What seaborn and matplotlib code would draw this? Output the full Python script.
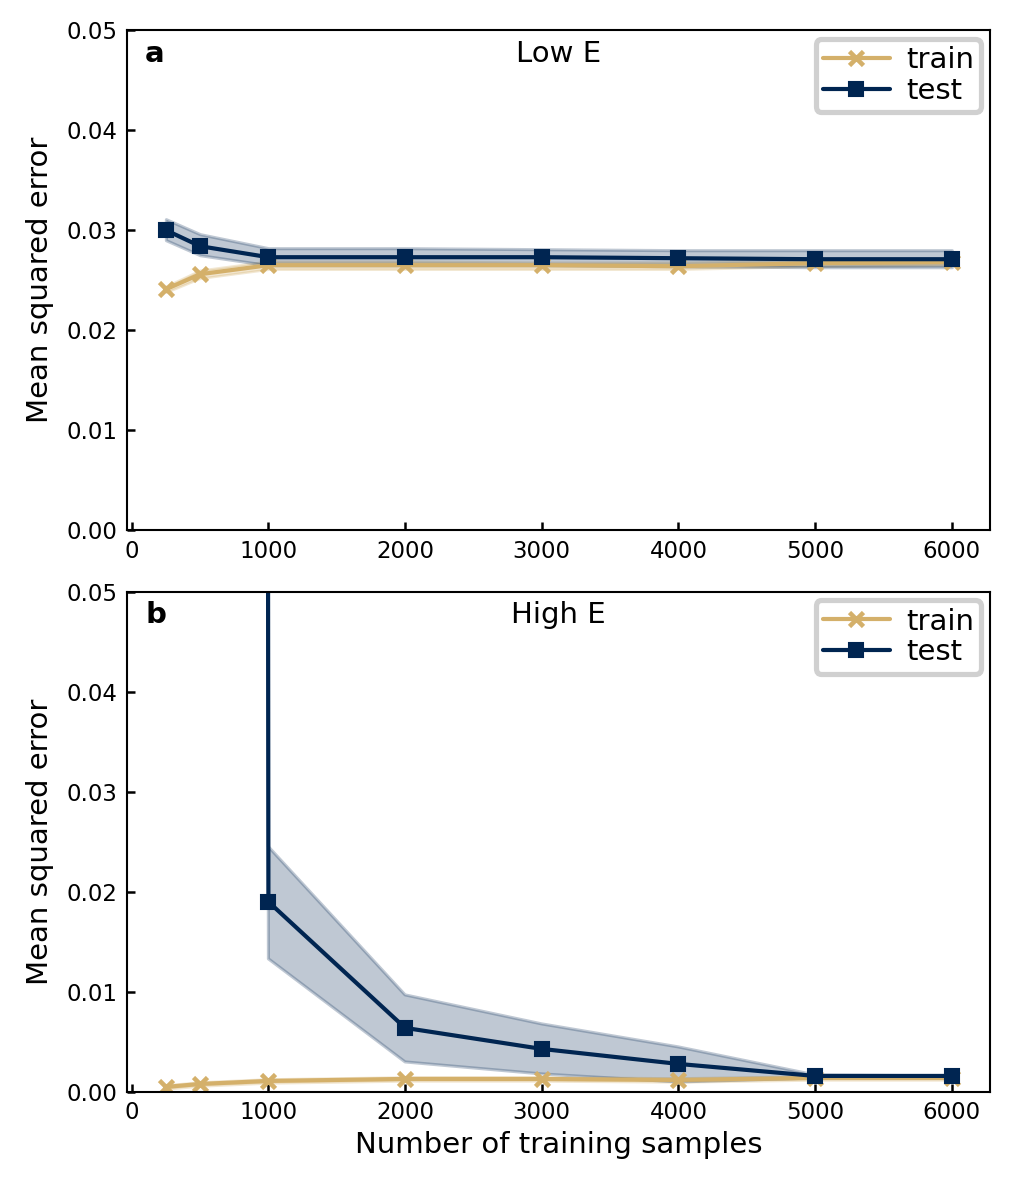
import numpy as np
import pandas as pd
import seaborn as sns
import matplotlib
matplotlib.use("Agg")
import matplotlib.pyplot as plt

sns.set_style("ticks")
plt.rcParams['font.family'] = ['DejaVu Sans']
plt.rcParams['text.color'] = 'black'
plt.rcParams['axes.labelcolor'] = 'black'

samples = [250, 500, 1000, 2000, 3000, 4000, 5000, 6000]

# Low E panel
low_train = [0.0241, 0.0256, 0.0265, 0.0265, 0.0265, 0.0264, 0.0267, 0.0268]
low_train_lo = [0.0238, 0.0252, 0.0261, 0.0261, 0.0261, 0.0261, 0.0264, 0.0265]
low_train_hi = [0.0244, 0.0260, 0.0269, 0.0269, 0.0268, 0.0268, 0.0270, 0.0271]
low_test = [0.0300, 0.0284, 0.0273, 0.0273, 0.0273, 0.0272, 0.0271, 0.0271]
low_test_lo = [0.0290, 0.0275, 0.0265, 0.0265, 0.0265, 0.0264, 0.0263, 0.0263]
low_test_hi = [0.0311, 0.0296, 0.0282, 0.0282, 0.0281, 0.0280, 0.0280, 0.0280]

# High E panel
high_train = [0.0005, 0.0008, 0.0011, 0.0013, 0.0013, 0.0012, 0.0014, 0.0014]
high_train_lo = [0.0003, 0.0006, 0.0009, 0.0011, 0.0011, 0.0010, 0.0012, 0.0012]
high_train_hi = [0.0007, 0.0010, 0.0013, 0.0015, 0.0015, 0.0014, 0.0016, 0.0016]
high_test = [8.0, 6.0, 0.0190, 0.0064, 0.0043, 0.0028, 0.0016, 0.0016]
high_test_lo = [5.0, 4.0, 0.0133, 0.0030, 0.0018, 0.0010, 0.0014, 0.0014]
high_test_hi = [11.0, 8.0, 0.0245, 0.0097, 0.0068, 0.0045, 0.0017, 0.0016]

panels = [
    ("a", "Low E", low_train, low_train_lo, low_train_hi, low_test, low_test_lo, low_test_hi),
    ("b", "High E", high_train, high_train_lo, high_train_hi, high_test, high_test_lo, high_test_hi),
]

train_color = "#D4B06A"
test_color = "#002551"

fig, axes = plt.subplots(2, 1, figsize=(1015/150, 1181/150), dpi=150)
fig.subplots_adjust(left=0.1251, right=0.9754, top=0.9746, bottom=0.0754, hspace=0.122)

for i, (ax, (lab, title, tr, trl, trh, te, tel, teh)) in enumerate(zip(axes, panels)):
    ax.fill_between(samples, trl, trh, color=train_color, alpha=0.3, lw=1.2,
                    edgecolor=train_color)
    ax.fill_between(samples, tel, teh, facecolor=test_color, alpha=0.25, lw=1.5,
                    edgecolor=test_color)
    sns.lineplot(x=samples, y=tr, color=train_color, marker="x", markersize=7,
                 markeredgewidth=2.2, markeredgecolor=train_color,
                 linestyle="-", label="train", ax=ax)
    sns.lineplot(x=samples, y=te, color=test_color, marker="s", markersize=7,
                 markeredgewidth=1, markeredgecolor=test_color,
                 markerfacecolor=test_color,
                 linestyle="-", label="test", ax=ax)
    for ln in ax.get_lines():
        ln.set_linewidth(2.0)
    ax.set_xlim(-35, 6280)
    ax.set_ylim(0, 0.05)
    ax.set_xticks([0, 1000, 2000, 3000, 4000, 5000, 6000])
    ax.set_yticks([0, 0.01, 0.02, 0.03, 0.04, 0.05])
    ax.set_yticklabels([f"{v:.2f}" for v in [0, 0.01, 0.02, 0.03, 0.04, 0.05]])
    ax.tick_params(direction="in", length=4, width=1.2, labelsize=11,
                   colors="black", pad=4.5)
    for s in ax.spines.values():
        s.set_linewidth(1.0)
        s.set_color("black")
    ax.set_ylabel("Mean squared error", fontsize=14, labelpad=6)
    ax.set_xlabel("Number of training samples" if i == 1 else "", fontsize=14, labelpad=3)
    ax.text(0.021, 0.953, lab, transform=ax.transAxes, fontsize=14,
            fontweight="bold", va="center", ha="left")
    ax.text(0.5, 0.953, title, transform=ax.transAxes, fontsize=14,
            va="center", ha="center")
    h, l = ax.get_legend_handles_labels()
    leg = ax.legend(h, l, loc="upper right", fontsize=14, frameon=True,
                    fancybox=True, framealpha=1, borderaxespad=0.3,
                    handlelength=2.3, handletextpad=0.55, borderpad=0.25,
                    labelspacing=0.1)
    leg.get_frame().set_edgecolor("#d0d0d0")
    leg.get_frame().set_linewidth(2.5)

fig.savefig("out.png", dpi=150)
